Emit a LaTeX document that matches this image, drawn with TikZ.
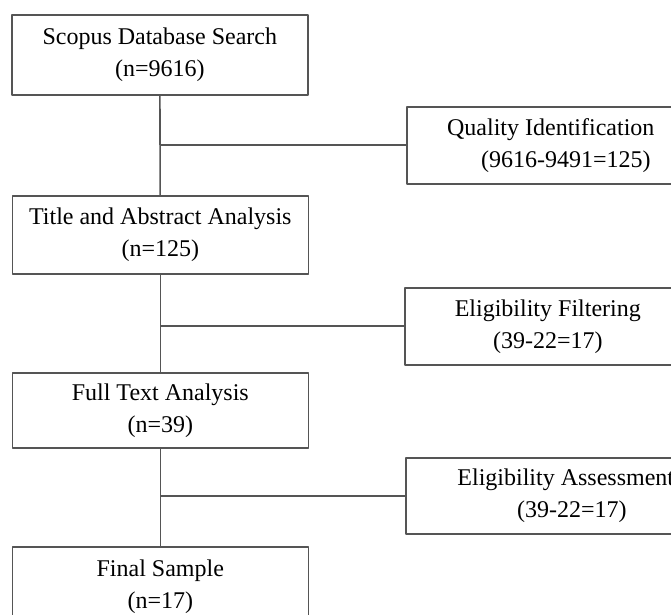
\documentclass[tikz,border=0pt]{standalone}
\usepackage{fontspec}
\setmainfont{Liberation Serif}
\usepackage{tikz}
\usetikzlibrary{
  positioning,  % 节点相对定位
  calc          % 坐标计算
}
\definecolor{lineclr}{HTML}{555555}
\tikzset{
  stagebox/.style={
    draw=lineclr,
    line width=0.8pt,
    rectangle,
    align=center,
    minimum width=148pt,
    inner sep=0pt,
    font=\fontsize{12}{16}\selectfont
  },
  sidebox/.style={
    draw=lineclr,
    line width=0.8pt,
    rectangle,
    align=center,
    inner sep=0pt,
    font=\fontsize{12}{16}\selectfont
  },
  flow/.style={
    draw=lineclr,
    line width=0.8pt
  }
}

\begin{document}
\begin{tikzpicture}[x=0.5pt, y=-0.5pt, line join=round]
  % 画布：与原图同尺寸（像素坐标），超出部分裁掉
  \fill[white] (0,0) rectangle (671,615);
  \clip (0,0) rectangle (671,615);

  % ===================================
  % 左侧主流程框
  % ===================================
  \node[stagebox, minimum height=40pt, anchor=north west] (search) at (11,14)
    {Scopus Database Search\\(n=9616)};
  \node[stagebox, minimum height=39pt, anchor=north west] (title) at (11.5,195)
    {Title and Abstract Analysis\\(n=125)};
  \node[stagebox, minimum height=37.5pt, anchor=north west] (fulltext) at (11.5,372)
    {Full Text Analysis\\(n=39)};
  \node[stagebox, minimum height=40pt, anchor=north west] (final) at (11.5,546)
    {Final Sample\\(n=17)};

  % ===================================
  % 右侧筛选说明框（右端被画布截断）
  % ===================================
  \node[sidebox, minimum width=144pt, minimum height=38.5pt, anchor=north west] (quality) at (406,106)
    {Quality Identification\\\hspace*{15pt}(9616-9491=125)};
  \node[sidebox, minimum width=143pt, minimum height=38.5pt, anchor=north west] (filter) at (404,287)
    {Eligibility Filtering\\(39-22=17)};
  \node[sidebox, minimum width=160pt, minimum height=38pt, anchor=north west] (assess) at (405,457)
    {Eligibility Assessment\\\hspace*{6pt}(39-22=17)};

  % ===================================
  % 主线与分支连线
  % ===================================
  \draw[flow] (search) -- (title);
  \draw[flow] (title) -- (fulltext);
  \draw[flow] (fulltext) -- (final);

  % 分支交点取在主线上
  \coordinate (J1) at (quality.west -| search.south);
  \coordinate (J2) at (filter.west -| title.south);
  \coordinate (J3) at (assess.west -| fulltext.south);
  \draw[flow] (J1) -- (quality.west);
  \draw[flow] (J2) -- (filter.west);
  \draw[flow] (J3) -- (assess.west);
\end{tikzpicture}
\end{document}
